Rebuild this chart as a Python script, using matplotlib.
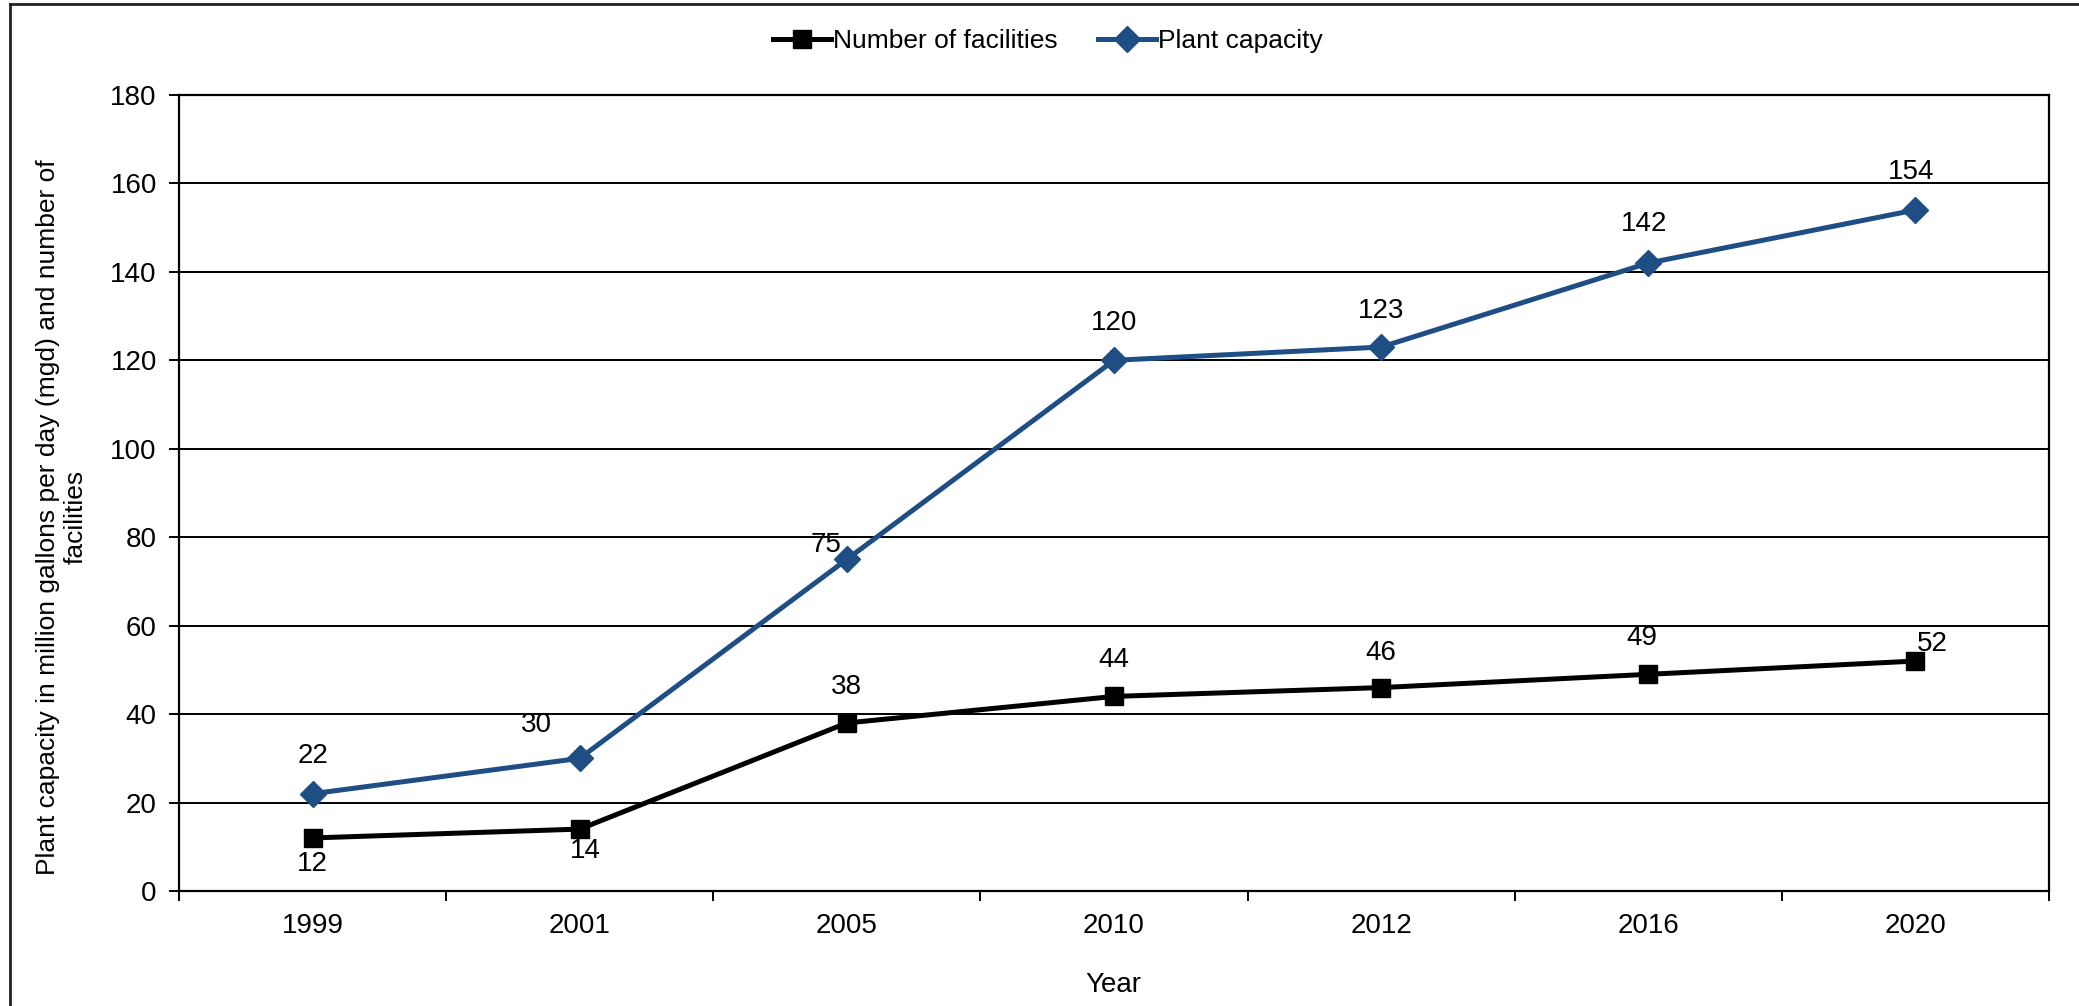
import matplotlib
matplotlib.use("Agg")
import matplotlib.pyplot as plt
from matplotlib.lines import Line2D

plt.rcParams['font.family'] = ['Liberation Sans', 'DejaVu Sans']

years = ['1999', '2001', '2005', '2010', '2012', '2016', '2020']
facilities = [12, 14, 38, 44, 46, 49, 52]
capacity = [22, 30, 75, 120, 123, 142, 154]
y_ticks = [0, 20, 40, 60, 80, 100, 120, 140, 160, 180]

# label offsets (points) for each data label
cap_offsets = [(0, 27), (-31, 24), (-15, 10), (0, 27), (0, 26), (-3, 28), (-3, 27)]
fac_offsets = [(0, -19), (4, -16), (0, 26), (0, 26), (0, 25), (-5, 26), (12, 12)]

BLUE = '#1F4E85'
FS = 20

fig = plt.figure(figsize=(20.79, 10.06), dpi=100)
ax = fig.add_axes([0.0861, 0.1143, 0.8995, 0.7913])

x = list(range(len(years)))

ax.plot(x, facilities, color='black', lw=3.6, marker='s', markersize=12.5,
        label='Number of facilities', zorder=4)
ax.plot(x, capacity, color=BLUE, lw=3.6, marker='D', markersize=13,
        label='Plant capacity', zorder=5)

for xi, v, off in zip(x, capacity, cap_offsets):
    ax.annotate(str(v), (xi, v), xytext=off, textcoords='offset points',
                ha='center', va='center', fontsize=FS)
for xi, v, off in zip(x, facilities, fac_offsets):
    ax.annotate(str(v), (xi, v), xytext=off, textcoords='offset points',
                ha='center', va='center', fontsize=FS)

ax.set_xlim(-0.5, len(years) - 0.5)
ax.set_ylim(0, 180)
ax.set_yticks(y_ticks)
ax.set_yticklabels([str(t) for t in y_ticks], fontsize=FS)
ax.yaxis.grid(True, color='black', lw=1.4)
ax.set_axisbelow(True)

# category boundaries carry the tick marks, centers carry the labels
ax.set_xticks([i - 0.5 for i in range(len(years) + 1)])
ax.set_xticklabels([])
ax.set_xticks(x, minor=True)
ax.set_xticklabels(years, minor=True, fontsize=FS)
ax.tick_params(axis='x', which='major', direction='out', length=7, width=1.4)
ax.tick_params(axis='x', which='minor', length=0, pad=16)
ax.tick_params(axis='y', direction='out', length=7, width=1.4, pad=9)

for s in ax.spines.values():
    s.set_color('black')
    s.set_linewidth(1.6)

fig.text(0.0298, 0.486,
         'Plant capacity in million gallons per day (mgd) and number of\nfacilities',
         rotation=90, ha='center', va='center', multialignment='center',
         fontsize=19, linespacing=1.2)
fig.text(0.5355, 0.021, 'Year', ha='center', va='center', fontsize=FS)

fig.legend(loc='center', bbox_to_anchor=(0.504, 0.959), ncol=2, frameon=False,
           fontsize=19, handlelength=2.2, handletextpad=0.1, columnspacing=1.5)

# outer frame edges on the left and top
fig.add_artist(Line2D([0.0048, 0.0048], [0, 0.996], transform=fig.transFigure,
                      color='#222222', lw=2))
fig.add_artist(Line2D([0.0048, 1.0], [0.996, 0.996], transform=fig.transFigure,
                      color='#222222', lw=2))

fig.savefig('out.png', dpi=100, facecolor='white')
